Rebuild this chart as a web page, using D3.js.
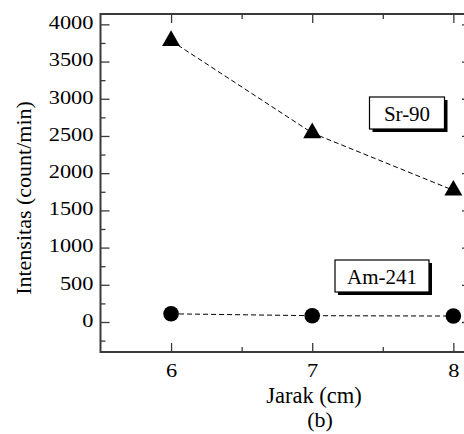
<!DOCTYPE html>
<html><head><meta charset="utf-8">
<script src="https://cdn.jsdelivr.net/npm/d3@7"></script>
<style>
body{margin:0;background:#fff;font-family:"Liberation Serif",serif}
svg text{font-family:"Liberation Serif",serif !important}
</style>
</head><body>
<svg id="c" width="464" height="434" font-family="Liberation Serif"></svg>
<script>
const distances = [6, 7, 8];
const sr90 = [3780, 2540, 1770];
const am241 = [110, 85, 80];
const yTicks = [0, 500, 1000, 1500, 2000, 2500, 3000, 3500, 4000];
const xTicks = [6, 7, 8];
const seriesNames = ["Sr-90", "Am-241"];

const FONT = "Liberation Serif";
const svg = d3.select("#c");
const L = 100.5, R = 471, T = 14, B = 352;
const x = d3.scaleLinear().domain([5.5, 8.125]).range([L, R]);
const y = d3.scaleLinear().domain([-403, 4139]).range([B, T]);
const axisColor = "#3a3a3a";

function styleAxis(g){
  g.attr("font-family", FONT);
  g.select(".domain").remove();
  g.selectAll("line").attr("stroke", axisColor).attr("stroke-width", 1.3);
}
const yMinor = d3.range(-250, 4100, 250).filter(v => v % 500 !== 0);
const xMinor = [6.5, 7.5];
function ticks(axisFn, scale, vals, size, tr){
  svg.append("g").attr("transform", tr)
    .call(axisFn(scale).tickValues(vals).tickSize(size).tickFormat(""))
    .call(styleAxis);
}
ticks(d3.axisRight, y, yTicks, 9, `translate(${L},0)`);
ticks(d3.axisRight, y, yMinor, 5, `translate(${L},0)`);
ticks(d3.axisLeft, y, yTicks, 9, `translate(${R},0)`);
ticks(d3.axisLeft, y, yMinor, 5, `translate(${R},0)`);
ticks(d3.axisTop, x, xTicks, 9, `translate(0,${B})`);
ticks(d3.axisTop, x, xMinor, 5, `translate(0,${B})`);
ticks(d3.axisBottom, x, xTicks, 9, `translate(0,${T})`);
ticks(d3.axisBottom, x, xMinor, 5, `translate(0,${T})`);

const gy = svg.append("g").attr("transform", `translate(${L},0)`)
  .call(d3.axisLeft(y).tickValues(yTicks).tickSize(0).tickFormat(d3.format("d")));
gy.attr("font-family", FONT).select(".domain").remove();
gy.selectAll("text")
  .attr("x", null).attr("dy", null)
  .attr("transform", "translate(-7,4.3) scale(1.12,0.93)")
  .attr("font-family", FONT).style("font-family", FONT).style("font-size", "20px").attr("fill", "#000");

const gx = svg.append("g").attr("transform", `translate(0,${B})`)
  .call(d3.axisBottom(x).tickValues(xTicks).tickSize(0).tickFormat(d3.format("d")));
gx.attr("font-family", FONT).select(".domain").remove();
gx.selectAll("text")
  .attr("y", null).attr("dy", null)
  .attr("transform", "translate(0,24.7) scale(1.12,0.93)")
  .attr("font-family", FONT).style("font-family", FONT).style("font-size", "20px").attr("fill", "#000");

svg.append("rect").attr("x", L).attr("y", T).attr("width", R - L).attr("height", B - T)
  .attr("fill", "none").attr("stroke", axisColor).attr("stroke-width", 2);

const line = d3.line().x((d, i) => x(distances[i])).y(d => y(d));
[sr90, am241].forEach(s => {
  svg.append("path").datum(s).attr("d", line).attr("fill", "none")
    .attr("stroke", "#000").attr("stroke-width", 1).attr("stroke-dasharray", "5,3");
});
svg.selectAll(".tri").data(sr90).enter().append("path")
  .attr("transform", (d, i) => `translate(${x(distances[i])},${y(d)})`)
  .attr("d", d3.symbol(d3.symbolTriangle, 140)).attr("fill", "#000");
svg.selectAll(".dot").data(am241).enter().append("circle")
  .attr("cx", (d, i) => x(distances[i])).attr("cy", d => y(d)).attr("r", 7.8).attr("fill", "#000");

function addText(t, size){ return t.attr("font-family", FONT).style("font-family", FONT).style("font-size", size + "px").attr("fill", "#000"); }
function labelBox(text, cx, cy, w, h, size){
  svg.append("rect").attr("x", cx - w/2 + 3).attr("y", cy - h/2 + 3).attr("width", w).attr("height", h).attr("fill", "#000");
  svg.append("rect").attr("x", cx - w/2).attr("y", cy - h/2).attr("width", w).attr("height", h)
    .attr("fill", "#fff").attr("stroke", "#000").attr("stroke-width", 1.2);
  addText(svg.append("text").attr("x", cx).attr("y", cy + 7.5).attr("text-anchor", "middle").text(text), size);
}
labelBox(seriesNames[0], 407, 113, 75, 32, 21);
labelBox(seriesNames[1], 382, 276, 94, 32, 21);

addText(svg.append("text").attr("transform", "translate(31,198) rotate(-90)").attr("text-anchor", "middle")
  .text("Intensitas (count/min)"), 22);
addText(svg.append("text").attr("x", 314).attr("y", 403).attr("text-anchor", "middle").text("Jarak (cm)"), 22.5);
addText(svg.append("text").attr("x", 320).attr("y", 427).attr("text-anchor", "middle").text("(b)"), 22);
</script>
</body></html>
